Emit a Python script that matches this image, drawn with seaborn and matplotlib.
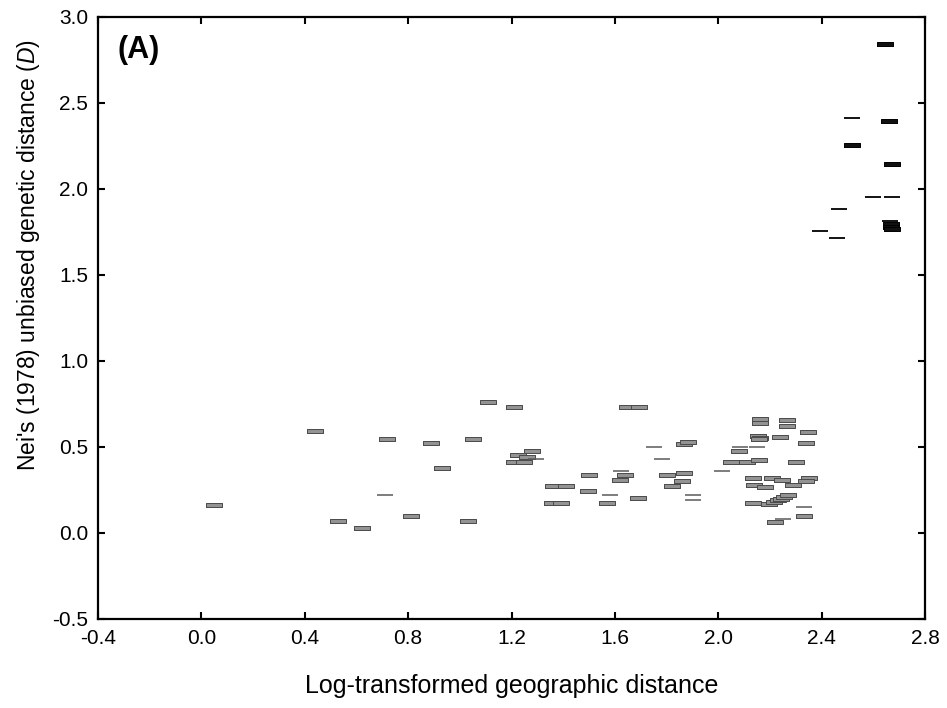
import matplotlib
matplotlib.use("Agg")
import matplotlib.pyplot as plt
import seaborn as sns

# lower cluster, wide grey dashes
low_x = [0.05, 0.44, 0.53, 0.62, 0.72, 0.81, 0.89, 0.93, 1.03, 1.05, 1.11, 1.21,
         1.28, 1.225, 1.26, 1.21, 1.25, 1.36, 1.41, 1.355, 1.39, 1.50, 1.495, 1.57,
         1.62, 1.64, 1.645, 1.695, 1.69, 1.80, 1.82, 1.866, 1.86, 1.868, 1.882,
         2.05, 2.08, 2.113, 2.158, 2.30, 2.16, 2.16, 2.266, 2.266, 2.347, 2.155,
         2.16, 2.158, 2.238, 2.34, 2.136, 2.207, 2.245, 2.35, 2.34, 2.137, 2.18,
         2.29, 2.133, 2.197, 2.216, 2.23, 2.243, 2.255, 2.268, 2.33, 2.22]
low_y = [0.165, 0.595, 0.068, 0.028, 0.545, 0.097, 0.525, 0.377, 0.068, 0.545, 0.763, 0.733,
         0.475, 0.455, 0.444, 0.415, 0.415, 0.275, 0.275, 0.176, 0.176, 0.335, 0.246, 0.176,
         0.306, 0.335, 0.733, 0.733, 0.205, 0.337, 0.275, 0.347, 0.304, 0.517, 0.527,
         0.415, 0.475, 0.415, 0.424, 0.415, 0.665, 0.64, 0.655, 0.624, 0.585, 0.565,
         0.555, 0.545, 0.558, 0.523, 0.32, 0.32, 0.308, 0.32, 0.305, 0.279, 0.27,
         0.279, 0.176, 0.167, 0.178, 0.192, 0.2, 0.211, 0.221, 0.1, 0.066]

# lower cluster, thin dashes
low_thin_x = [0.71, 1.295, 1.58, 1.623, 1.75, 1.783, 1.902, 1.902, 2.015, 2.085, 2.15, 2.33, 2.249]
low_thin_y = [0.221, 0.43, 0.221, 0.36, 0.50, 0.43, 0.221, 0.19, 0.36, 0.50, 0.50, 0.153, 0.08]

# upper cluster, black
up_x = [2.646, 2.66, 2.517, 2.671, 2.669, 2.669, 2.672]
up_y = [2.845, 2.395, 2.256, 2.147, 1.795, 1.78, 1.768]
up_thin_x = [2.517, 2.598, 2.671, 2.469, 2.666, 2.393, 2.459]
up_thin_y = [2.411, 1.953, 1.953, 1.882, 1.814, 1.756, 1.713]

x_ticks = [-0.4, 0.0, 0.4, 0.8, 1.2, 1.6, 2.0, 2.4, 2.8]
y_ticks = [-0.5, 0.0, 0.5, 1.0, 1.5, 2.0, 2.5, 3.0]

sns.set_style("ticks")
plt.rcParams['font.family'] = ['Liberation Sans', 'DejaVu Sans']
plt.rcParams['mathtext.fontset'] = 'custom'
plt.rcParams['mathtext.it'] = 'Liberation Sans:italic'
plt.rcParams['mathtext.rm'] = 'Liberation Sans'
plt.rcParams['text.color'] = 'black'
plt.rcParams['axes.labelcolor'] = 'black'

fig = plt.figure(figsize=(9.47, 7.08), dpi=100)
ax = fig.add_axes([98 / 947, 89 / 708, 827 / 947, 602 / 708])

rect = [(-1, -0.22), (1, -0.22), (1, 0.22), (-1, 0.22), (-1, -0.22)]

sns.scatterplot(x=low_x, y=low_y, marker=rect, s=125, color='#939393',
                edgecolor='#4a4a4a', linewidth=0.7, ax=ax, zorder=3)
sns.scatterplot(x=low_thin_x, y=low_thin_y, marker='_', s=125, color='#5a5a5a',
                linewidth=1.1, ax=ax, zorder=3)
sns.scatterplot(x=up_x, y=up_y, marker=rect, s=125, color='#111111',
                edgecolor='black', linewidth=0.7, ax=ax, zorder=3)
sns.scatterplot(x=up_thin_x, y=up_thin_y, marker='_', s=125, color='black',
                linewidth=1.3, ax=ax, zorder=3)

ax.set_xlim(-0.4, 2.8)
ax.set_ylim(-0.5, 3.0)
ax.set_xticks(x_ticks)
ax.set_xticklabels([f"{v:.1f}" for v in x_ticks])
ax.set_yticks(y_ticks)
ax.set_yticklabels([f"{v:.1f}" for v in y_ticks])

for s in ax.spines.values():
    s.set_visible(True)
    s.set_linewidth(1.6)
    s.set_color('black')
ax.tick_params(direction='in', length=5, width=1.5, top=True, right=True,
               labelsize=15, colors='black', pad=7)

ax.set_xlabel('Log-transformed geographic distance', fontsize=18, labelpad=19)
ax.set_ylabel("Nei's (1978) unbiased genetic distance ($\\mathit{D}$)", fontsize=16.5)
ax.yaxis.set_label_coords(-0.068, 0.605)

ax.text(0.024, 0.945, '(A)', transform=ax.transAxes, fontsize=22,
        fontweight='bold', va='center', ha='left')

fig.savefig('out.png', dpi=100)
